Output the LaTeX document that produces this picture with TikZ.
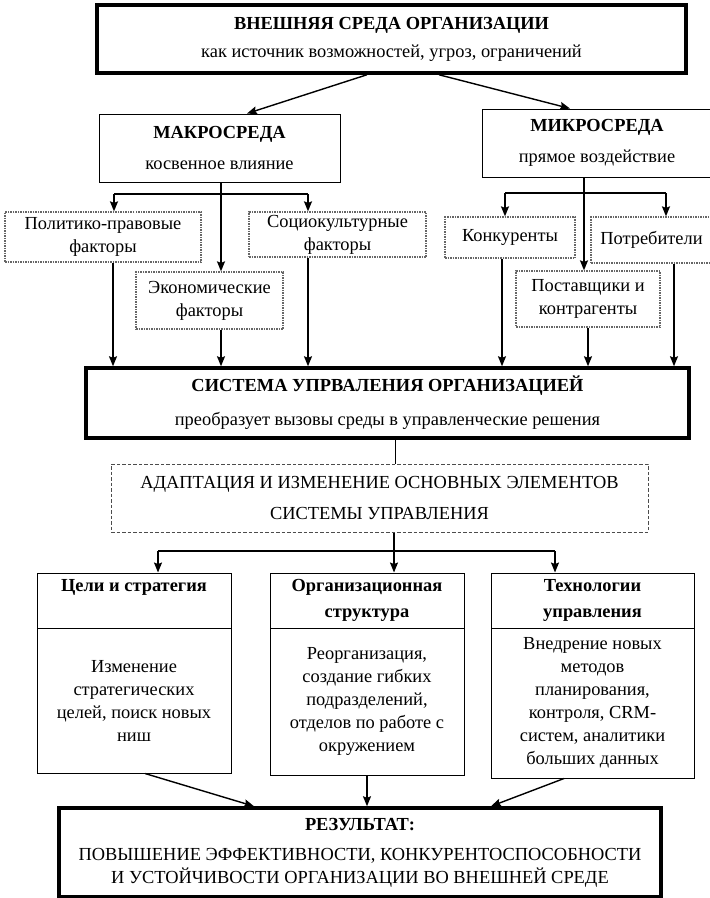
\documentclass[tikz,border=0pt]{standalone}
\usepackage{fontspec}
\setmainfont{Liberation Serif}
\usetikzlibrary{arrows.meta}
\begin{document}
\begin{tikzpicture}[x=1pt,y=-1pt,
  every node/.style={font=\fontsize{18.4}{23}\selectfont,align=center,inner sep=0pt},
  thinbox/.style={draw,line width=1pt},
  thickbox/.style={draw,line width=3.5pt},
  dotbox/.style={draw=black!60,line width=1.3pt,dash pattern=on 1.5pt off 1pt},
  dashbox/.style={draw=black!70,line width=1pt,dash pattern=on 3.5pt off 2pt},
  arr/.style={line width=1.4pt,-{Stealth[length=10pt,width=8pt,inset=1.5pt]}},
  link/.style={line width=1.2pt}]
\useasboundingbox (0,0) rectangle (710,898);
\node[thickbox,minimum width=589pt,minimum height=68pt] (env) at (391.5,39) {\textbf{ВНЕШНЯЯ СРЕДА ОРГАНИЗАЦИИ}\\[5pt]как источник возможностей, угроз, ограничений};
\node[thinbox,minimum width=241pt,minimum height=68pt] (macro) at (219.5,148) {\textbf{МАКРОСРЕДА}\\[8pt]косвенное влияние};
\node[thinbox,minimum width=230pt,minimum height=68pt] (micro) at (597,143) {\textbf{МИКРОСРЕДА}\\[8pt]прямое воздействие};
\node[dotbox,minimum width=196pt,minimum height=50pt] (polit) at (103,237) {Политико-правовые\\факторы};
\node[dotbox,minimum width=177pt,minimum height=45pt] (socio) at (337.5,234.5) {Социокультурные\\факторы};
\node[dotbox,minimum width=147pt,minimum height=57pt] (econ) at (209.5,300.5) {Экономические\\факторы};
\node[dotbox,minimum width=130pt,minimum height=41pt] (konk) at (510,237.5) {Конкуренты};
\node[dotbox,minimum width=121pt,minimum height=46pt] (potreb) at (651.5,240) {Потребители};
\node[dotbox,minimum width=144pt,minimum height=56pt] (postav) at (588,299) {Поставщики и\\контрагенты};
\node[thickbox,minimum width=603pt,minimum height=70pt] (system) at (387.5,403) {\textbf{СИСТЕМА УПРВАЛЕНИЯ ОРГАНИЗАЦИЕЙ}\\[11pt]преобразует вызовы среды в управленческие решения};
\node[dashbox,minimum width=537pt,minimum height=68pt] (adapt) at (379.5,498) {АДАПТАЦИЯ И ИЗМЕНЕНИЕ ОСНОВНЫХ ЭЛЕМЕНТОВ\\[8pt]СИСТЕМЫ УПРАВЛЕНИЯ};
\node[thinbox,minimum width=194pt,minimum height=55pt] (goalsh) at (134,600.5) {\textbf{Цели и стратегия}\\[3pt]\phantom{Ц}};
\node[thinbox,minimum width=194pt,minimum height=145pt] (goalsb) at (134,700.5) {Изменение\\стратегических\\целей, поиск новых\\ниш};
\node[thinbox,minimum width=194pt,minimum height=55pt] (structh) at (367,600.5) {\textbf{Организационная}\\[3pt]\textbf{структура}};
\node[thinbox,minimum width=194pt,minimum height=147pt] (structb) at (367,701.5) {Реорганизация,\\создание гибких\\подразделений,\\отделов по работе с\\окружением};
\node[thinbox,minimum width=203pt,minimum height=55pt] (techh) at (592.5,600.5) {\textbf{Технологии}\\[3pt]\textbf{управления}};
\node[thinbox,minimum width=203pt,minimum height=150pt] (techb) at (592.5,703) {Внедрение новых\\методов\\планирования,\\контроля, CRM-\\систем, аналитики\\больших данных};
\node[thickbox,minimum width=602pt,minimum height=89pt] (result) at (360,852.5) {\textbf{РЕЗУЛЬТАТ:}\\[7pt]ПОВЫШЕНИЕ ЭФФЕКТИВНОСТИ, КОНКУРЕНТОСПОСОБНОСТИ\\И УСТОЙЧИВОСТИ ОРГАНИЗАЦИИ ВО ВНЕШНЕЙ СРЕДЕ};
\coordinate (macroL) at (114,194);
\coordinate (macroR) at (308,194);
\coordinate (microL) at (505,193);
\coordinate (microR) at (666,193);
\coordinate (adaptL) at (158,551);
\coordinate (adaptR) at (555,551);
\draw[arr] ([xshift=-24.5pt]env.south) -- ([xshift=27.5pt]macro.north);
\draw[arr] ([xshift=47.5pt]env.south) -- ([xshift=-27pt]micro.north);
\draw[arr] ([xshift=1.5pt]macro.south) -- ([xshift=1.5pt]macro.south |- econ.north);
\draw[link] (macroL) -- (macroR);
\draw[arr] (macroL) -- (macroL |- polit.north);
\draw[arr] (macroR) -- (macroR |- socio.north);
\draw[arr] ([xshift=-13pt]micro.south) -- ([xshift=-13pt]micro.south |- postav.north);
\draw[link] (microL) -- (microR);
\draw[arr] (microL) -- (microL |- konk.north);
\draw[arr] (microR) -- (microR |- potreb.north);
\draw[arr] ([xshift=10pt]polit.south) -- ([xshift=10pt]polit.south |- system.north);
\draw[arr] ([xshift=11.5pt]econ.south) -- ([xshift=11.5pt]econ.south |- system.north);
\draw[arr] ([xshift=-29.5pt]socio.south) -- ([xshift=-29.5pt]socio.south |- system.north);
\draw[arr] ([xshift=-8pt]konk.south) -- ([xshift=-8pt]konk.south |- system.north);
\draw[arr] (postav.south) -- (postav.south |- system.north);
\draw[arr] ([xshift=22.5pt]potreb.south) -- ([xshift=22.5pt]potreb.south |- system.north);
\draw[link] ([xshift=8pt]system.south) -- ([xshift=8pt]system.south |- adapt.north);
\draw[arr] ([xshift=14.5pt]adapt.south) -- ([xshift=14.5pt]adapt.south |- structh.north);
\draw[link] (adaptL) -- (adaptR);
\draw[arr] (adaptL) -- (adaptL |- goalsh.north);
\draw[arr] (adaptR) -- (adaptR |- techh.north);
\draw[arr] ([xshift=11pt]goalsb.south) -- ([xshift=-106pt]result.north);
\draw[arr] (structb.south) -- (structb.south |- result.north);
\draw[arr] ([xshift=-28.5pt]techb.south) -- ([xshift=131pt]result.north);
\end{tikzpicture}
\end{document}
